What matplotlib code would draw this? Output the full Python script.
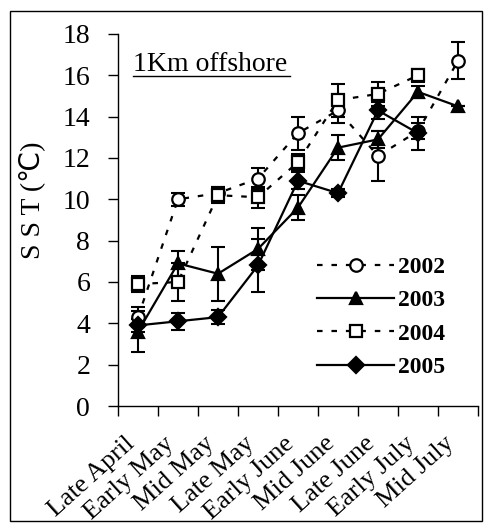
import matplotlib
matplotlib.use("Agg")
import matplotlib.pyplot as plt
from matplotlib.patches import Rectangle
from matplotlib.lines import Line2D

periods = ["Late April", "Early May", "Mid May", "Late May", "Early June",
           "Mid June", "Late June", "Early July", "Mid July"]

sst_2002 = [4.3, 10.0, 10.3, 11.0, 13.2, 14.3, 12.1, 13.3, 16.7]
err_2002 = [0.5, 0.3, 0.3, 0.5, 0.8, 0.6, 1.2, 0.4, 0.9]
sst_2003 = [3.6, 6.9, 6.4, 7.6, 9.6, 12.5, 12.9, 15.2, 14.5]
err_2003 = [1.0, 0.6, 1.3, 1.0, 0.6, 0.6, 0.4, 0.3, 0.0]
sst_2004 = [5.9, 6.0, 10.2, 10.1, 11.8, 14.8, 15.1, 16.0]
err_2004 = [0.4, 0.9, 0.4, 0.5, 0.4, 0.8, 0.6, 0.3]
sst_2005 = [3.9, 4.1, 4.3, 6.8, 10.9, 10.3, 14.3, 13.2]
err_2005 = [0.3, 0.4, 0.35, 1.3, 0.4, 0.2, 0.4, 0.8]

serif = ["Liberation Serif", "DejaVu Sans"]
plt.rcParams["font.family"] = serif

fig = plt.figure(figsize=(4.92, 5.27), dpi=100)
ax = fig.add_axes([0.2398, 0.2296, 0.7317, 0.7059])

# outer frame around the whole chart
fig.patches.append(Rectangle((0.02, 0.012), 0.96, 0.968, transform=fig.transFigure,
                             fill=False, edgecolor="black", linewidth=1.0))

dotted = (0, (2.5, 4))
series = [
    ("2002", sst_2002, err_2002, "o", "white", dotted),
    ("2003", sst_2003, err_2003, "^", "black", "-"),
    ("2004", sst_2004, err_2004, "s", "white", dotted),
    ("2005", sst_2005, err_2005, "D", "black", "-"),
]

for name, vals, errs, mk, face, ls in series:
    xs = [i + 0.5 for i in range(len(vals))]
    ax.errorbar(xs, vals, yerr=errs, fmt="none", ecolor="black",
                elinewidth=1.5, capsize=5, capthick=1.5, zorder=2)
    ax.plot(xs, vals, color="black", linestyle=ls, linewidth=1.6,
            marker=mk, markersize=9 if mk != "D" else 8,
            markerfacecolor=face, markeredgecolor="black",
            markeredgewidth=1.6, label=name, zorder=3)

ax.set_xlim(0, 9)
ax.set_ylim(0, 18)
ax.set_yticks(range(0, 19, 2))
# category ticks sit between periods; labels are slanted text under centres
ax.set_xticks(range(10))
ax.set_xticklabels([])
ax.tick_params(axis="x", length=7, width=1)
for i, p in enumerate(periods):
    ax.annotate(p, xy=(i + 0.5, 0), xycoords=("data", "axes fraction"),
                xytext=(-10, -19), textcoords="offset points",
                rotation=42, ha="right", va="top", rotation_mode="anchor",
                fontsize=19)
ax.tick_params(axis="y", length=7, width=1, labelsize=20, pad=13)

for side in ["top", "right"]:
    ax.spines[side].set_visible(False)
for side in ["left", "bottom"]:
    ax.spines[side].set_linewidth(1.0)

ax.set_ylabel("S S T (\u2103)", fontsize=20)
ax.yaxis.set_label_coords(-0.203, 0.554)

ax.text(0.042, 0.9, "1Km offshore", transform=ax.transAxes, fontsize=20,
        ha="left", va="baseline")
ax.add_line(Line2D([0.042, 0.478], [0.888, 0.888], transform=ax.transAxes,
                   color="black", linewidth=1.0))

leg = ax.legend(loc="lower right", bbox_to_anchor=(0.935, 0.05), frameon=False,
                handlelength=3.3, handletextpad=0.15, labelspacing=0.5,
                borderaxespad=0,
                prop={"family": serif, "weight": "bold", "size": 17})

fig.savefig("out.png", dpi=100)
